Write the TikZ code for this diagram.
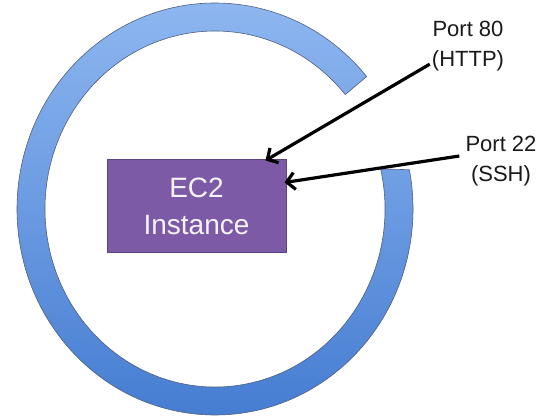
\documentclass[tikz,border=0pt]{standalone}
\usepackage{fontspec}
\setmainfont{Liberation Sans}
\usetikzlibrary{arrows.meta,calc}
\definecolor{ringtop}{RGB}{146,186,242}
\definecolor{ringbot}{RGB}{66,122,208}
\definecolor{ringedge}{RGB}{80,95,125}
\definecolor{ecfill}{RGB}{125,90,166}
\definecolor{ecedge}{RGB}{92,66,128}
\definecolor{ectext}{RGB}{246,242,250}
\begin{document}
\begin{tikzpicture}[x=1pt,y=1pt,
  ecbox/.style={draw=ecedge,line width=1pt,fill=ecfill,minimum width=179pt,minimum height=93pt,
    text=ectext,font=\fontsize{28}{37}\selectfont,align=center,inner sep=0pt},
  portlabel/.style={font=\fontsize{22}{30}\selectfont,align=center,text=black!90,inner sep=0pt},
  portarrow/.style={line width=3.2pt,-{Straight Barb[length=8pt,width=17pt]}}]
\useasboundingbox (0,0) rectangle (545,417);
\coordinate (c) at (215,208);
% ring
\shade[top color=ringtop,bottom color=ringbot,draw=ringedge,line width=0.6pt]
  ($(c)+(40:198 and 206)$) arc[start angle=40,end angle=371,x radius=198,y radius=206]
  -- ($(c)+(373:170 and 178)$) arc[start angle=373,end angle=40,x radius=170,y radius=178]
  -- cycle;
% EC2 box
\node[ecbox] (ec2) at (196.5,210.5) {EC2\\Instance};
% labels
\node[portlabel] (p80) at (468,371) {Port 80\\(HTTP)};
\node[portlabel] (p22) at (501,256) {Port 22\\(SSH)};
\coordinate (s80) at ($(p80.south west)+(-2,7)$);
\coordinate (s22) at ($(p22.west)+(-6,5)$);
\draw[portarrow] (s80) -- ($(ec2.north east)+(-21,-1)$);
\draw[portarrow] (s22) -- ($(ec2.east)+(-2,24)$);
\end{tikzpicture}
\end{document}
